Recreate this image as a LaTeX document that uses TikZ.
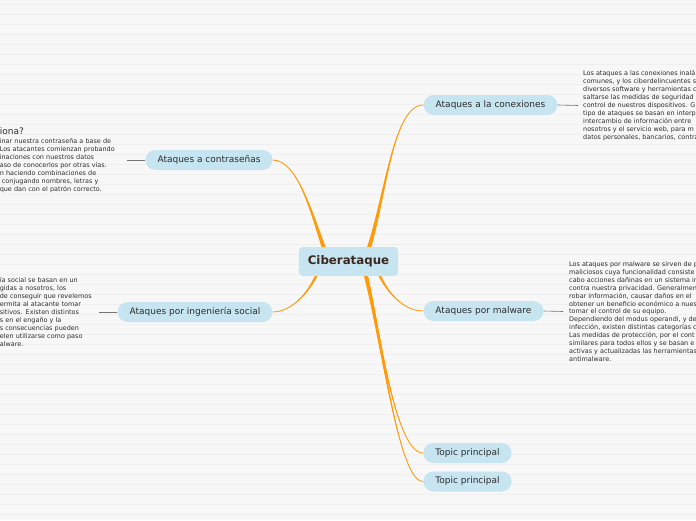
\documentclass[tikz,border=0pt]{standalone}
\usepackage{fontspec}
\setmainfont{DejaVu Sans}
\usepackage{tikz}
\usetikzlibrary{calc, backgrounds}
\definecolor{paper}{RGB}{247,247,247}
\definecolor{ruled}{RGB}{239,239,239}
\definecolor{topicblue}{RGB}{198,229,240}
\definecolor{branchorange}{RGB}{255,155,10}
\definecolor{notegray}{RGB}{115,115,115}
\definecolor{inktext}{RGB}{45,45,45}
\definecolor{rootink}{RGB}{58,40,32}
\tikzset{
    main node/.style={fill=topicblue, rounded corners=4pt, minimum height=29pt,
      inner xsep=9pt, text=rootink, font=\fontsize{11.8}{13}\selectfont\bfseries},
    topic node/.style={fill=topicblue, rounded corners=10pt, minimum height=20pt,
      inner xsep=12pt, text=inktext, font=\fontsize{9}{10}\selectfont},
    note node/.style={align=left, inner xsep=6pt, text=inktext,
      font=\fontsize{6.45}{7.9}\selectfont},
    branch line/.style={draw=branchorange, line width=0.8pt},
    branch fill/.style={fill=branchorange},
    note line/.style={draw=notegray, line width=0.6pt},
    ruled line/.style={draw=ruled, line width=0.8pt}
}
% tapered branch: root, control 1, control 2, end, half width at root
\newcommand{\branch}[5]{%
  \fill[branch fill] ($(#1)+(-#5,0)$) .. controls ($(#2)+(-#5/2,0)$) and (#3) .. (#4)
  .. controls (#3) and ($(#2)+(#5/2,0)$) .. ($(#1)+(#5,0)$) -- cycle;
  \draw[branch line] (#1) .. controls (#2) and (#3) .. (#4);}

\begin{document}
\begin{tikzpicture}[x=1pt, y=-1pt]
  \useasboundingbox (0,0) rectangle (696,520);
  \clip (0,0) rectangle (696,520);

  % paper
  \begin{pgfonlayer}{background}
    \fill[paper] (0,0) rectangle (696,520);
    \foreach \y in {4.5,14.5,...,514.5}
      \draw[ruled line] (0,\y) -- (696,\y);
  \end{pgfonlayer}

  % topics
  \node[main node] (root) at (348.5,261.5) {Ciberataque};
  \node[topic node] (pwd) at (209,160) {Ataques a contraseñas};
  \node[topic node] (wifi) at (490.5,105) {Ataques a la conexiones};
  \node[topic node] (social) at (195,312) {Ataques por ingeniería social};
  \node[topic node] (malware) at (483.5,311) {Ataques por malware};
  \node[topic node] (topicA) at (467.5,453) {Topic principal};
  \node[topic node] (topicB) at (467.5,481.5) {Topic principal};

  % branches
  \coordinate (rootNW) at (325,251);
  \coordinate (rootNE) at (368,251);
  \coordinate (rootSW) at (318,272);
  \coordinate (rootSE) at (378,272);
  \coordinate (rootS) at (365,272);
  \begin{pgfonlayer}{background}
    \branch{rootNW}{312,215}{298,160}{pwd.east}{2.2}
    \branch{rootNE}{386,195}{393,105}{wifi.west}{2.2}
    \branch{rootSW}{308,295}{290,312}{social.east}{1.6}
    \branch{rootSE}{388,295}{405,311}{malware.west}{1.6}
    \branch{rootS}{380,330}{395,453}{topicA.west}{2}
    \branch{rootS}{382,340}{398,481.5}{topicB.west}{2}
  \end{pgfonlayer}

  % notes
  \node[note node, anchor=east, text width=121pt] (pwdnote) at (127,160)
  {{\fontsize{9}{10}\selectfont iona?}\\[1.5pt]
    inar nuestra contraseña a base de\\
    Los atacantes comienzan probando\\
    inaciones con nuestros datos\\
    aso de conocerlos por otras vías.\\
    n haciendo combinaciones de\\
    \ conjugando nombres, letras y\\
    que dan con el patrón correcto.};
  \draw[note line] (pwd.west) -- (pwdnote.east);

  \node[note node, anchor=west, inner xsep=5pt] (wifinote) at (578,105.5)
  {Los ataques a las conexiones inalá\\
    comunes, y los ciberdelincuentes s\\
    diversos software y herramientas c\\
    saltarse las medidas de seguridad\\
    control de nuestros dispositivos. G\\
    tipo de ataques se basan en interp\\
    intercambio de información entre\\
    nosotros y el servicio web, para m\\
    datos personales, bancarios, contra};
  \draw[note line] (wifi.east) -- (wifinote.west);

  \node[note node, anchor=east, text width=93pt] (socialnote) at (99,312)
  {ía social se basan en un\\
    gidas a nosotros, los\\
    de conseguir que revelemos\\
    ermita al atacante tomar\\
    sitivos. Existen distintos\\
    s en el engaño y la\\
    s consecuencias pueden\\
    elen utilizarse como paso\\
    alware.};
  \draw[note line] (social.west) -- (socialnote.east);

  \node[note node, anchor=west] (malwarenote) at (563,311.5)
  {Los ataques por malware se sirven de p\\
    maliciosos cuya funcionalidad consiste\\
    cabo acciones dañinas en un sistema in\\
    contra nuestra privacidad. Generalmen\\
    robar información, causar daños en el\\
    obtener un beneficio económico a nues\\
    tomar el control de su equipo.\\
    Dependiendo del modus operandi, y de\\
    infección, existen distintas categorías c\\
    Las medidas de protección, por el cont\\
    similares para todos ellos y se basan e\\
    activas y actualizadas las herramientas\\
    antimalware.};
  \draw[note line] (malware.east) -- (malwarenote.west);
\end{tikzpicture}
\end{document}
